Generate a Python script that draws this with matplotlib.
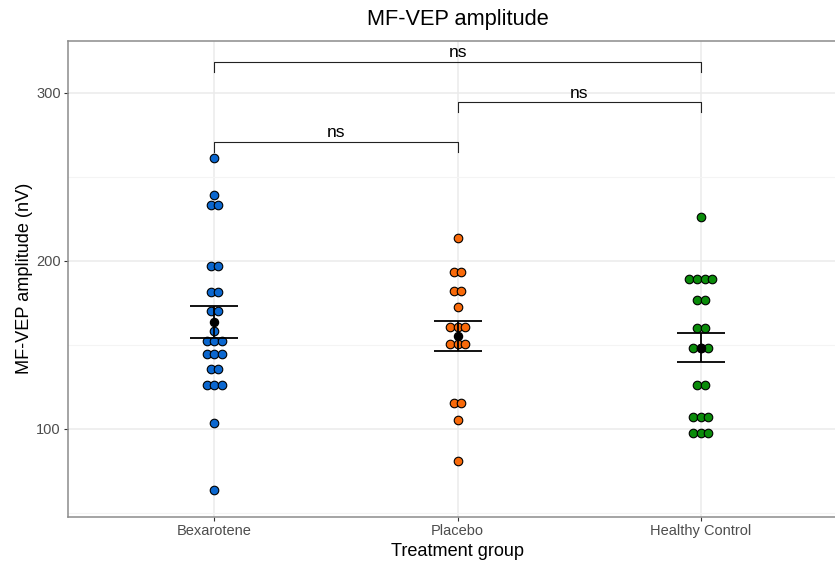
import numpy as np
import matplotlib
matplotlib.use("Agg")
import matplotlib.pyplot as plt

plt.rcParams['font.family'] = ['Liberation Sans', 'DejaVu Sans']

# values (repeats = stacked dots)
groups = ["Bexarotene", "Placebo", "Healthy Control"]
bexarotene = [261.1, 239.3, 233.3, 233.3, 197.2, 197.2, 181.3, 181.3, 170.4, 170.4,
              158.5, 152.6, 152.6, 152.6, 144.6, 144.6, 144.6, 135.5, 135.5,
              126.0, 126.0, 126.0, 103.6, 63.7]
placebo = [213.5, 193.3, 193.3, 182.0, 182.0, 172.4, 160.5, 160.5, 160.5,
           150.8, 150.8, 150.8, 115.7, 115.7, 105.6, 80.9]
healthy = [226.4, 189.3, 189.3, 189.3, 189.3, 177.0, 177.0, 160.1, 160.1,
           148.0, 148.0, 148.0, 126.2, 126.2, 107.1, 107.1, 107.1, 97.8, 97.8, 97.8]
colors = ["#0B67CF", "#F96A0A", "#0A8C0A"]

# significance brackets: (group a, group b, y)
brackets = [(0, 1, 271.0), (1, 2, 294.5), (0, 2, 318.6)]
sig_labels = ["ns", "ns", "ns"]

data = [bexarotene, placebo, healthy]

fig = plt.figure(figsize=(8.35, 5.62), dpi=100)
ax = fig.add_axes([0.082, 0.0806, 0.932, 0.847])

dot_step = 0.0317
for i, vals in enumerate(data):
    vals = np.array(vals)
    xs, ys = [], []
    for v in np.unique(vals):
        n = np.sum(vals == v)
        for k in range(n):
            xs.append(i + 1 + (k - (n - 1) / 2) * dot_step)
            ys.append(v)
    ax.scatter(xs, ys, s=38, color=colors[i], edgecolor="black", linewidth=0.8, zorder=3)

    # mean +/- SEM
    m = vals.mean()
    se = vals.std(ddof=1) / np.sqrt(len(vals))
    ax.errorbar(i + 1, m, yerr=se, fmt="none", ecolor="black", elinewidth=1.3,
                capsize=24 * 0.72, capthick=1.3, zorder=4)
    ax.scatter([i + 1], [m], s=34, color="black", zorder=5)

for (a, b, y), lab in zip(brackets, sig_labels):
    h = 5.9
    ax.plot([a + 1, a + 1, b + 1, b + 1], [y - h, y, y, y - h], color="#222222", lw=0.8, zorder=2)
    ax.text((a + b) / 2 + 1, y + 1.0, lab, ha="center", va="bottom", fontsize=12.5, color="black")

ax.set_xlim(0.4, 3.6)
ax.set_ylim(47.8, 331.1)
ax.set_xticks([1, 2, 3])
ax.set_xticklabels(groups)
ax.set_yticks([100, 200, 300])
ax.set_yticks([50, 150, 250], minor=True)
ax.grid(True, which="major", color="#EBEBEB", lw=1.1, zorder=0)
ax.grid(True, which="minor", axis="y", color="#F4F4F4", lw=0.8, zorder=0)
ax.set_axisbelow(True)
ax.tick_params(axis="both", which="major", length=3, color="#333333",
               labelsize=10.5, labelcolor="#4D4D4D", pad=2.5)
ax.tick_params(axis="y", which="minor", length=0)
for s in ax.spines.values():
    s.set_color("#8C8C8C")
    s.set_linewidth(1.1)

ax.set_title("MF-VEP amplitude", fontsize=15.7, pad=11)
ax.set_xlabel("Treatment group", fontsize=13.1, labelpad=3)
ax.set_ylabel("MF-VEP amplitude (nV)", fontsize=13.1, labelpad=2)

fig.savefig("out.png", dpi=100)
